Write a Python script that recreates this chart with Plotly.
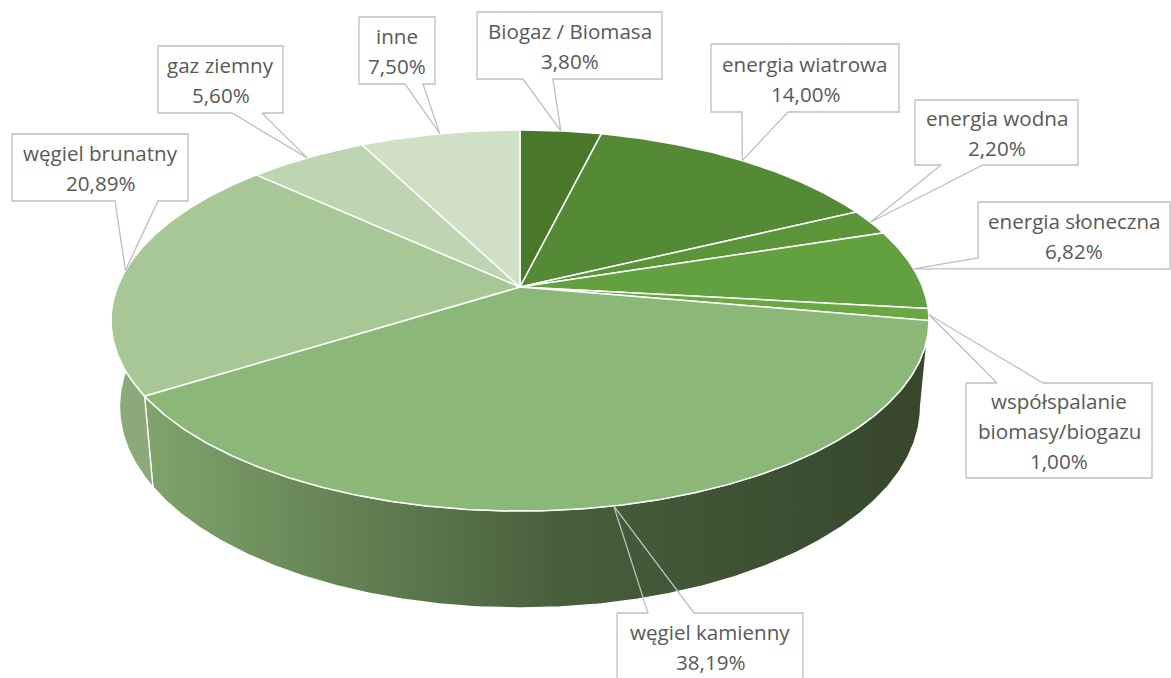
import numpy as np
import plotly.graph_objects as go

# ---------------- data ----------------
categories = ["Biogaz / Biomasa", "energia wiatrowa", "energia wodna", "energia słoneczna",
              "współspalanie biomasy/biogazu", "węgiel kamienny", "węgiel brunatny",
              "gaz ziemny", "inne"]
values = [3.80, 14.00, 2.20, 6.82, 1.00, 38.19, 20.89, 5.60, 7.50]
value_labels = ["3,80%", "14,00%", "2,20%", "6,82%", "1,00%", "38,19%", "20,89%", "5,60%", "7,50%"]

# ---------------- styles ----------------
top_colors = ["#4A782A", "#548936", "#5B9439", "#63A03F", "#6AA843",
              "#8BB878", "#A8C797", "#BED5B1", "#D0E0C7"]
wall_colors = ["#3B4D31", "#3B4D31", "#3B4D31", "#3B4D31", "#3B4D31",
               None, "#8CA97C", "#9DB88F", "#AFC6A4"]
kamienny_gradient = [[0.0, "#7FA36B"], [0.55, "#475E3B"], [1.0, "#37482D"]]

# projection of the tilted disc (pixel space)
CX, CY = 520.0, 287.0
AX, BY, S = 402.6, 184.6, 0.1759
DEPTH_C, DEPTH_R = 86.5, 0.0205


def project(theta_deg, depth=0.0):
    t = np.radians(theta_deg)
    u, v = np.sin(t), np.cos(t)
    w = 1 + S * v + DEPTH_R * depth
    return CX + AX * u / w, CY + (-BY * v + DEPTH_C * depth) / w


# callout boxes: (x0, x1, y0, y1, side, base_a, base_b)
callouts = [
    (477, 662, 12, 79, "bottom", 523, 553),
    (711, 899, 44, 112, "bottom", 742, 788),
    (915, 1078, 100, 165, "bottom", 941, 983),
    (978, 1170, 202, 269, "left", 258, 269),
    (966, 1152, 383, 478, "top", 997, 1043),
    (617, 803, 613, 695, "top", 648, 694),
    (12, 188, 134, 201, "bottom", 115, 158),
    (158, 283, 46, 113, "bottom", 232, 262),
    (359, 435, 17, 84, "bottom", 405, 423),
]
wrap = {"współspalanie biomasy/biogazu": ["współspalanie", "biomasy/biogazu"]}

total = sum(values)
bounds = np.concatenate([[0.0], np.cumsum(values) / total * 360.0])

fig = go.Figure()

# side walls
for i in range(len(values)):
    a0, a1 = bounds[i], bounds[i + 1]
    th = np.linspace(a0, a1, max(8, int((a1 - a0) * 2)))
    tx, ty = project(th, 0.0)
    bx, by = project(th[::-1], 1.0)
    px = np.concatenate([tx, bx, tx[:1]])
    py = np.concatenate([ty, by, ty[:1]])
    kw = dict(x=px, y=py, mode="lines", fill="toself",
              line=dict(color="white", width=1.3), hoverinfo="skip", showlegend=False)
    if wall_colors[i] is None:
        kw["fillgradient"] = dict(type="horizontal", colorscale=kamienny_gradient,
                                  start=150, stop=900)
    else:
        kw["fillcolor"] = wall_colors[i]
    fig.add_trace(go.Scatter(**kw))

# top faces
for i in range(len(values)):
    a0, a1 = bounds[i], bounds[i + 1]
    th = np.linspace(a0, a1, max(8, int((a1 - a0) * 2)))
    tx, ty = project(th, 0.0)
    px = np.concatenate([[CX], tx, [CX]])
    py = np.concatenate([[CY], ty, [CY]])
    fig.add_trace(go.Scatter(x=px, y=py, mode="lines", fill="toself",
                             fillcolor=top_colors[i],
                             line=dict(color="white", width=1.5),
                             hoverinfo="skip", showlegend=False))

# callouts
annotations = []
for i, (x0, x1, y0, y1, side, b1, b2) in enumerate(callouts):
    mid = (bounds[i] + bounds[i + 1]) / 2
    tipx, tipy = project(mid, 0.0)
    if side == "bottom":
        xs = [x0, x1, x1, b2, tipx, b1, x0, x0]
        ys = [y0, y0, y1, y1, tipy, y1, y1, y0]
    elif side == "top":
        xs = [x0, b1, tipx, b2, x1, x1, x0, x0]
        ys = [y0, y0, tipy, y0, y0, y1, y1, y0]
    else:  # left
        xs = [x0, x1, x1, x0, tipx, x0, x0]
        ys = [y0, y0, y1, y1, tipy, b1, y0]
    fig.add_trace(go.Scatter(x=xs, y=ys, mode="lines",
                             line=dict(color="#BFBFBF", width=1.3),
                             hoverinfo="skip", showlegend=False))
    lines = wrap.get(categories[i], [categories[i]]) + [value_labels[i]]
    xc = (x0 + x1) / 2
    vis_y1 = min(y1, 680) if side != "top" or y1 < 680 else y0 + 67
    yc = (y0 + vis_y1) / 2
    n = len(lines)
    for k, txt in enumerate(lines):
        annotations.append(dict(x=xc, y=yc + 0.5 + (k - (n - 1) / 2) * 30, text=txt,
                                showarrow=False, xanchor="center", yanchor="middle",
                                font=dict(family="Open Sans", size=20.6, color="#595959")))

fig.update_layout(
    width=1171, height=678, autosize=False,
    margin=dict(l=0, r=0, t=0, b=0),
    paper_bgcolor="white", plot_bgcolor="white",
    showlegend=False, hovermode=False,
    xaxis=dict(range=[0, 1171], visible=False, fixedrange=True),
    yaxis=dict(range=[678, 0], visible=False, fixedrange=True),
    annotations=annotations,
)

fig.write_html("out.html")
